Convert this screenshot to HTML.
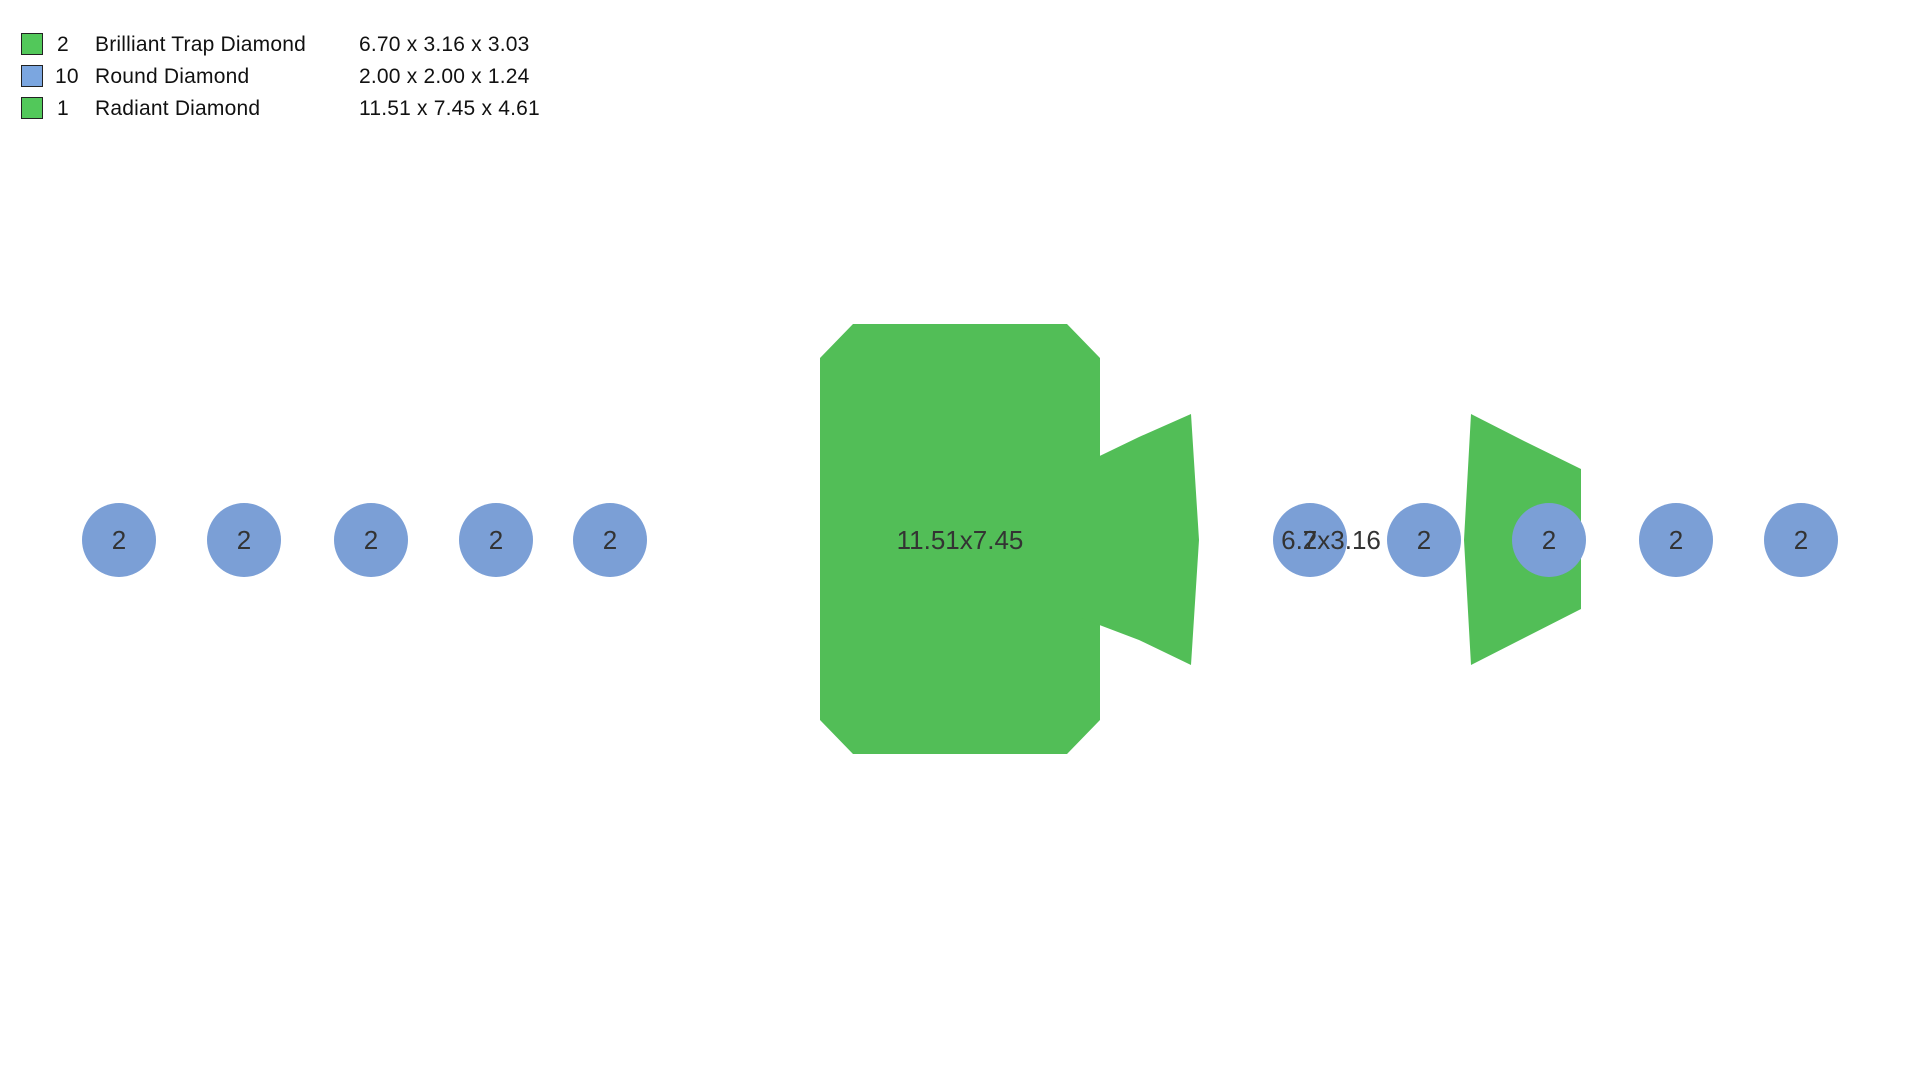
<!DOCTYPE html>
<html><head><meta charset="utf-8"><style>
body{margin:0;width:1920px;height:1080px;background:#fff;overflow:hidden;font-family:"Liberation Sans",sans-serif}
.lg{position:absolute;font-size:21px;color:#111;line-height:24px;letter-spacing:0.2px}
.sq{position:absolute;width:22px;height:22px;border:1px solid #222;box-sizing:border-box}
</style></head><body>
<div class="sq" style="left:21px;top:33px;background:#52c85a"></div>
<div class="sq" style="left:21px;top:65px;background:#7ba6e0"></div>
<div class="sq" style="left:21px;top:97px;background:#52c85a"></div>
<div class="lg" style="left:57px;top:33px">2</div><div class="lg" style="left:95px;top:33px">Brilliant Trap Diamond</div><div class="lg" style="left:359px;top:33px">6.70 x 3.16 x 3.03</div>
<div class="lg" style="left:55px;top:65px">10</div><div class="lg" style="left:95px;top:65px">Round Diamond</div><div class="lg" style="left:359px;top:65px">2.00 x 2.00 x 1.24</div>
<div class="lg" style="left:57px;top:97px">1</div><div class="lg" style="left:95px;top:97px">Radiant Diamond</div><div class="lg" style="left:359px;top:97px">11.51 x 7.45 x 4.61</div>
<svg width="1920" height="1080" style="position:absolute;left:0;top:0" font-family="Liberation Sans, sans-serif">
<polygon fill="#52be57" points="853,324 1067,324 1100,358 1100,720 1067,754 853,754 820,720 820,358"/>
<polygon fill="#52be57" points="1081,465 1139,437 1191,414 1199,540 1191,665 1139,640 1081,618"/>
<polygon fill="#52be57" points="1471,414 1524,441 1581,469 1581,609 1524,638 1471,665 1464,540"/>
<g fill="#7b9fd6">
<circle cx="119" cy="540" r="37"/><circle cx="244" cy="540" r="37"/><circle cx="371" cy="540" r="37"/><circle cx="496" cy="540" r="37"/><circle cx="610" cy="540" r="37"/>
<circle cx="1310" cy="540" r="37"/><circle cx="1424" cy="540" r="37"/><circle cx="1549" cy="540" r="37"/><circle cx="1676" cy="540" r="37"/><circle cx="1801" cy="540" r="37"/>
</g>
<g fill="#333" font-size="26" text-anchor="middle">
<text x="119" y="549">2</text><text x="244" y="549">2</text><text x="371" y="549">2</text><text x="496" y="549">2</text><text x="610" y="549">2</text>
<text x="1310" y="549">2</text><text x="1424" y="549">2</text><text x="1549" y="549">2</text><text x="1676" y="549">2</text><text x="1801" y="549">2</text>
<text x="1331" y="549">6.7x3.16</text>
<text x="960" y="549">11.51x7.45</text>
</g>
</svg>
</body></html>
